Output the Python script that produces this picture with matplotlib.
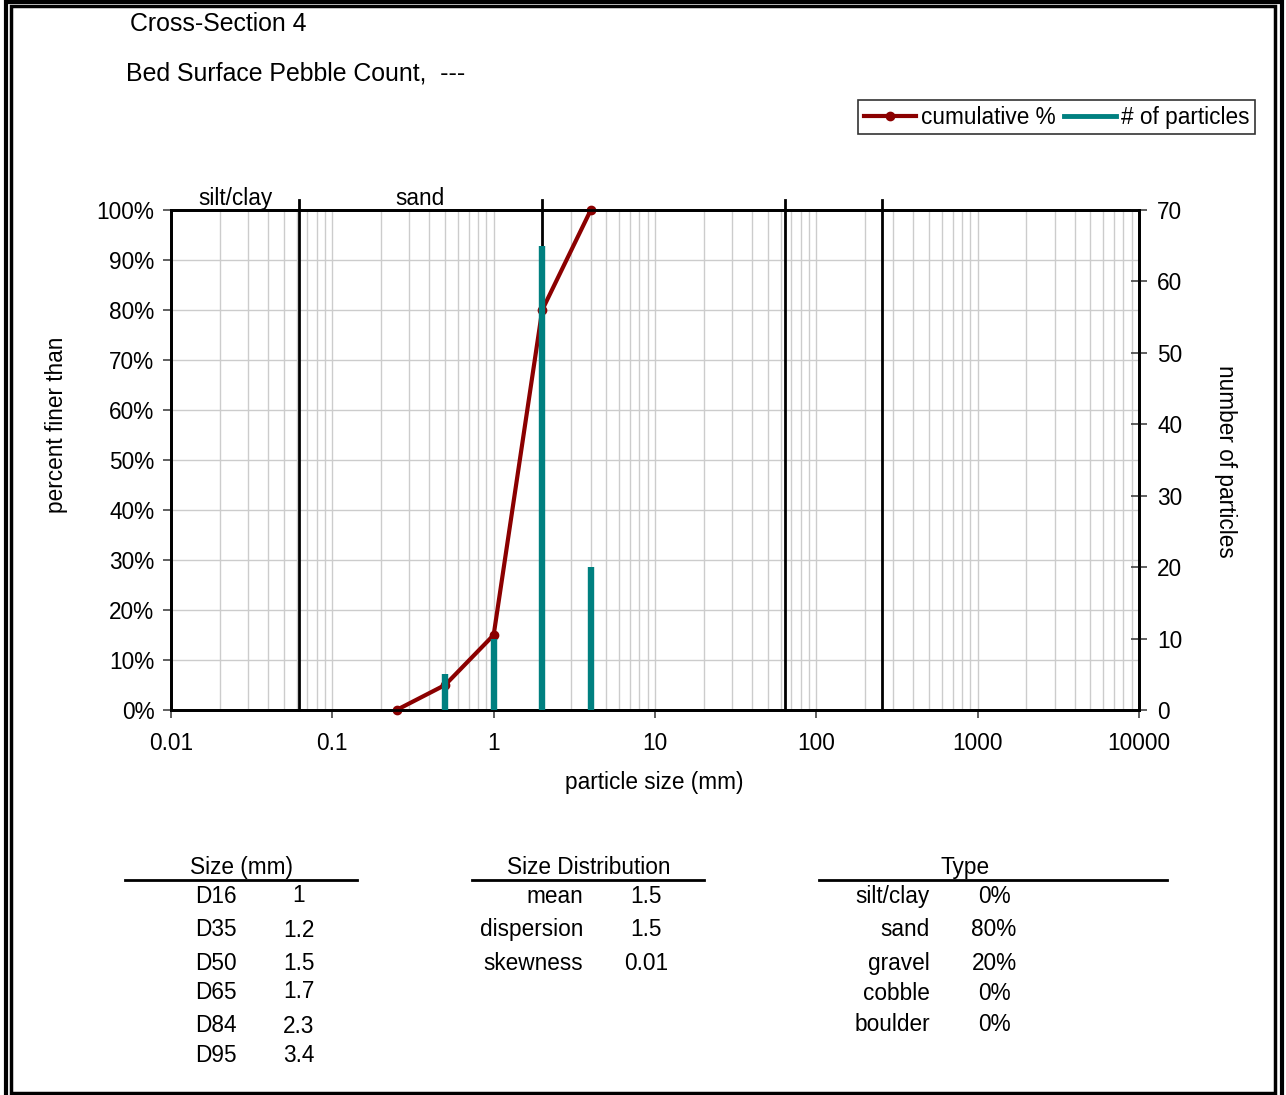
import matplotlib
matplotlib.use('Agg')
import matplotlib.pyplot as plt
from matplotlib.lines import Line2D
from matplotlib.patches import Rectangle
import matplotlib.ticker as mticker

plt.rcParams['font.family'] = ['Liberation Sans', 'DejaVu Sans']

# ---- data ----
cum_sizes = [0.25, 0.5, 1, 2, 4]
cum_pct = [0, 5, 15, 80, 100]
count_sizes = [0.5, 1, 2, 4]
counts = [5, 10, 65, 20]
class_bounds = [0.0625, 2, 64, 256]
zone_names = ['silt/clay', 'sand']
x_ticks = [0.01, 0.1, 1, 10, 100, 1000, 10000]
x_tick_labels = ['0.01', '0.1', '1', '10', '100', '1000', '10000']
y_ticks = [0, 10, 20, 30, 40, 50, 60, 70, 80, 90, 100]
y2_ticks = [0, 10, 20, 30, 40, 50, 60, 70]

size_labels = ['D16', 'D35', 'D50', 'D65', 'D84', 'D95']
size_values = ['1', '1.2', '1.5', '1.7', '2.3', '3.4']
dist_labels = ['mean', 'dispersion', 'skewness']
dist_values = ['1.5', '1.5', '0.01']
type_labels = ['silt/clay', 'sand', 'gravel', 'cobble', 'boulder']
type_values = ['0%', '80%', '20%', '0%', '0%']

# ---- layout ----
W, H = 1286, 1095
fig = plt.figure(figsize=(W / 100, H / 100), dpi=100)


def fx(px):
    return px / W


def fy(py):
    return 1 - py / H


RED = '#8b0000'
TEAL = '#008080'
GRID = '#cccccc'
FS = 16.3
TFS = 17.9

ax = fig.add_axes([fx(171), fy(710), fx(1139) - fx(171), fy(210) - fy(710)])
ax.set_xscale('log')
ax.set_xlim(0.01, 10000)
ax.set_ylim(0, 100)
ax.set_yticks(y_ticks)
ax.yaxis.set_major_formatter(mticker.FuncFormatter(lambda v, p: f'{int(v)}%'))
ax.set_xticks(x_ticks)
ax.set_xticklabels(x_tick_labels)
ax.xaxis.set_minor_locator(mticker.LogLocator(base=10, subs=range(2, 10), numticks=20))
ax.xaxis.set_minor_formatter(mticker.NullFormatter())
ax.grid(True, which='both', axis='x', color=GRID, lw=1)
ax.grid(True, which='major', axis='y', color=GRID, lw=1)
ax.set_axisbelow(True)
ax.tick_params(axis='x', which='minor', length=0)
ax.tick_params(axis='both', which='major', labelsize=FS, length=6, width=1.2, direction='out', color='#444444')
ax.tick_params(axis='x', pad=10)
ax.tick_params(axis='y', pad=6)
for s in ax.spines.values():
    s.set_linewidth(2)
    s.set_color('black')

for b in class_bounds:
    ax.axvline(b, ymin=0, ymax=1.02, color='black', lw=2, clip_on=False, zorder=3)

ax.plot(cum_sizes, cum_pct, color=RED, lw=3.0, marker='o', ms=6, zorder=4, clip_on=False)

ax2 = ax.twinx()
ax2.set_ylim(0, 70)
ax2.set_yticks(y2_ticks)
ax2.tick_params(axis='y', labelsize=FS, length=12, width=1.2, direction='inout', color='#444444', pad=7)
for s in ax2.spines.values():
    s.set_linewidth(2)
    s.set_color('black')
ax2.vlines(count_sizes, 0, counts, color=TEAL, lw=4.6, zorder=5)

# zone labels
ax.text(0.025, 102.8, zone_names[0], ha='center', va='center_baseline', fontsize=FS)
ax.text(0.35, 102.8, zone_names[1], ha='center', va='center_baseline', fontsize=FS)

# axis labels
fig.text(fx(56), fy(425), 'percent finer than', rotation=90, ha='center', va='center', fontsize=FS)
fig.text(fx(1225), fy(461), 'number of particles', rotation=-90, ha='center', va='center', fontsize=FS)
fig.text(fx(654), fy(782), 'particle size (mm)', ha='center', va='center', fontsize=FS)

# titles
fig.text(fx(130), fy(24), 'Cross-Section 4', ha='left', va='center', fontsize=TFS)
fig.text(fx(126), fy(74), 'Bed Surface Pebble Count,  ---', ha='left', va='center', fontsize=TFS)

# legend
handles = [Line2D([], [], color=RED, lw=3, marker='o', ms=6),
           Line2D([], [], color=TEAL, lw=3.5)]
leg = fig.legend(handles, ['cumulative %', '# of particles'], ncol=2,
                 loc='upper right', bbox_to_anchor=(fx(1255), fy(100)),
                 fontsize=FS, frameon=True, fancybox=False, handlelength=2.3,
                 handletextpad=0.2, columnspacing=0.4, borderpad=0.25,
                 borderaxespad=0)
leg.get_frame().set_edgecolor('black')
leg.get_frame().set_linewidth(1.2)

# tables
def hline(x0, x1, y):
    fig.add_artist(Line2D([fx(x0), fx(x1)], [fy(y), fy(y)], color='black', lw=2))

VA = 'center_baseline'
fig.text(fx(241), fy(865), 'Size (mm)', ha='center', va=VA, fontsize=FS)
hline(125, 357, 880)
size_y = [894, 927, 961, 990, 1023, 1053]
size_vy = [893, 928, 961, 989, 1024, 1053]
for lab, val, y, vy in zip(size_labels, size_values, size_y, size_vy):
    fig.text(fx(216), fy(y), lab, ha='center', va=VA, fontsize=FS)
    fig.text(fx(299), fy(vy), val, ha='center', va=VA, fontsize=FS)

fig.text(fx(589), fy(865), 'Size Distribution', ha='center', va=VA, fontsize=FS)
hline(472, 704, 880)
dist_y = [894, 927, 961]
for lab, val, y in zip(dist_labels, dist_values, dist_y):
    fig.text(fx(583), fy(y), lab, ha='right', va=VA, fontsize=FS)
    fig.text(fx(646), fy(y), val, ha='center', va=VA, fontsize=FS)

fig.text(fx(965), fy(865), 'Type', ha='center', va=VA, fontsize=FS)
hline(819, 1167, 880)
type_y = [894, 927, 961, 991, 1022]
for lab, val, y in zip(type_labels, type_values, type_y):
    fig.text(fx(930), fy(y), lab, ha='right', va=VA, fontsize=FS)
    fig.text(fx(994), fy(y), val, ha='center', va=VA, fontsize=FS)

# double border
fig.add_artist(Rectangle((fx(6), fy(1100)), fx(1282) - fx(6), fy(2) - fy(1100),
                         fill=False, ec='black', lw=3, transform=fig.transFigure))
fig.add_artist(Rectangle((fx(11), fy(1093)), fx(1275) - fx(11), fy(6) - fy(1093),
                         fill=False, ec='black', lw=2.5, transform=fig.transFigure))

fig.savefig('out.png', dpi=100)
